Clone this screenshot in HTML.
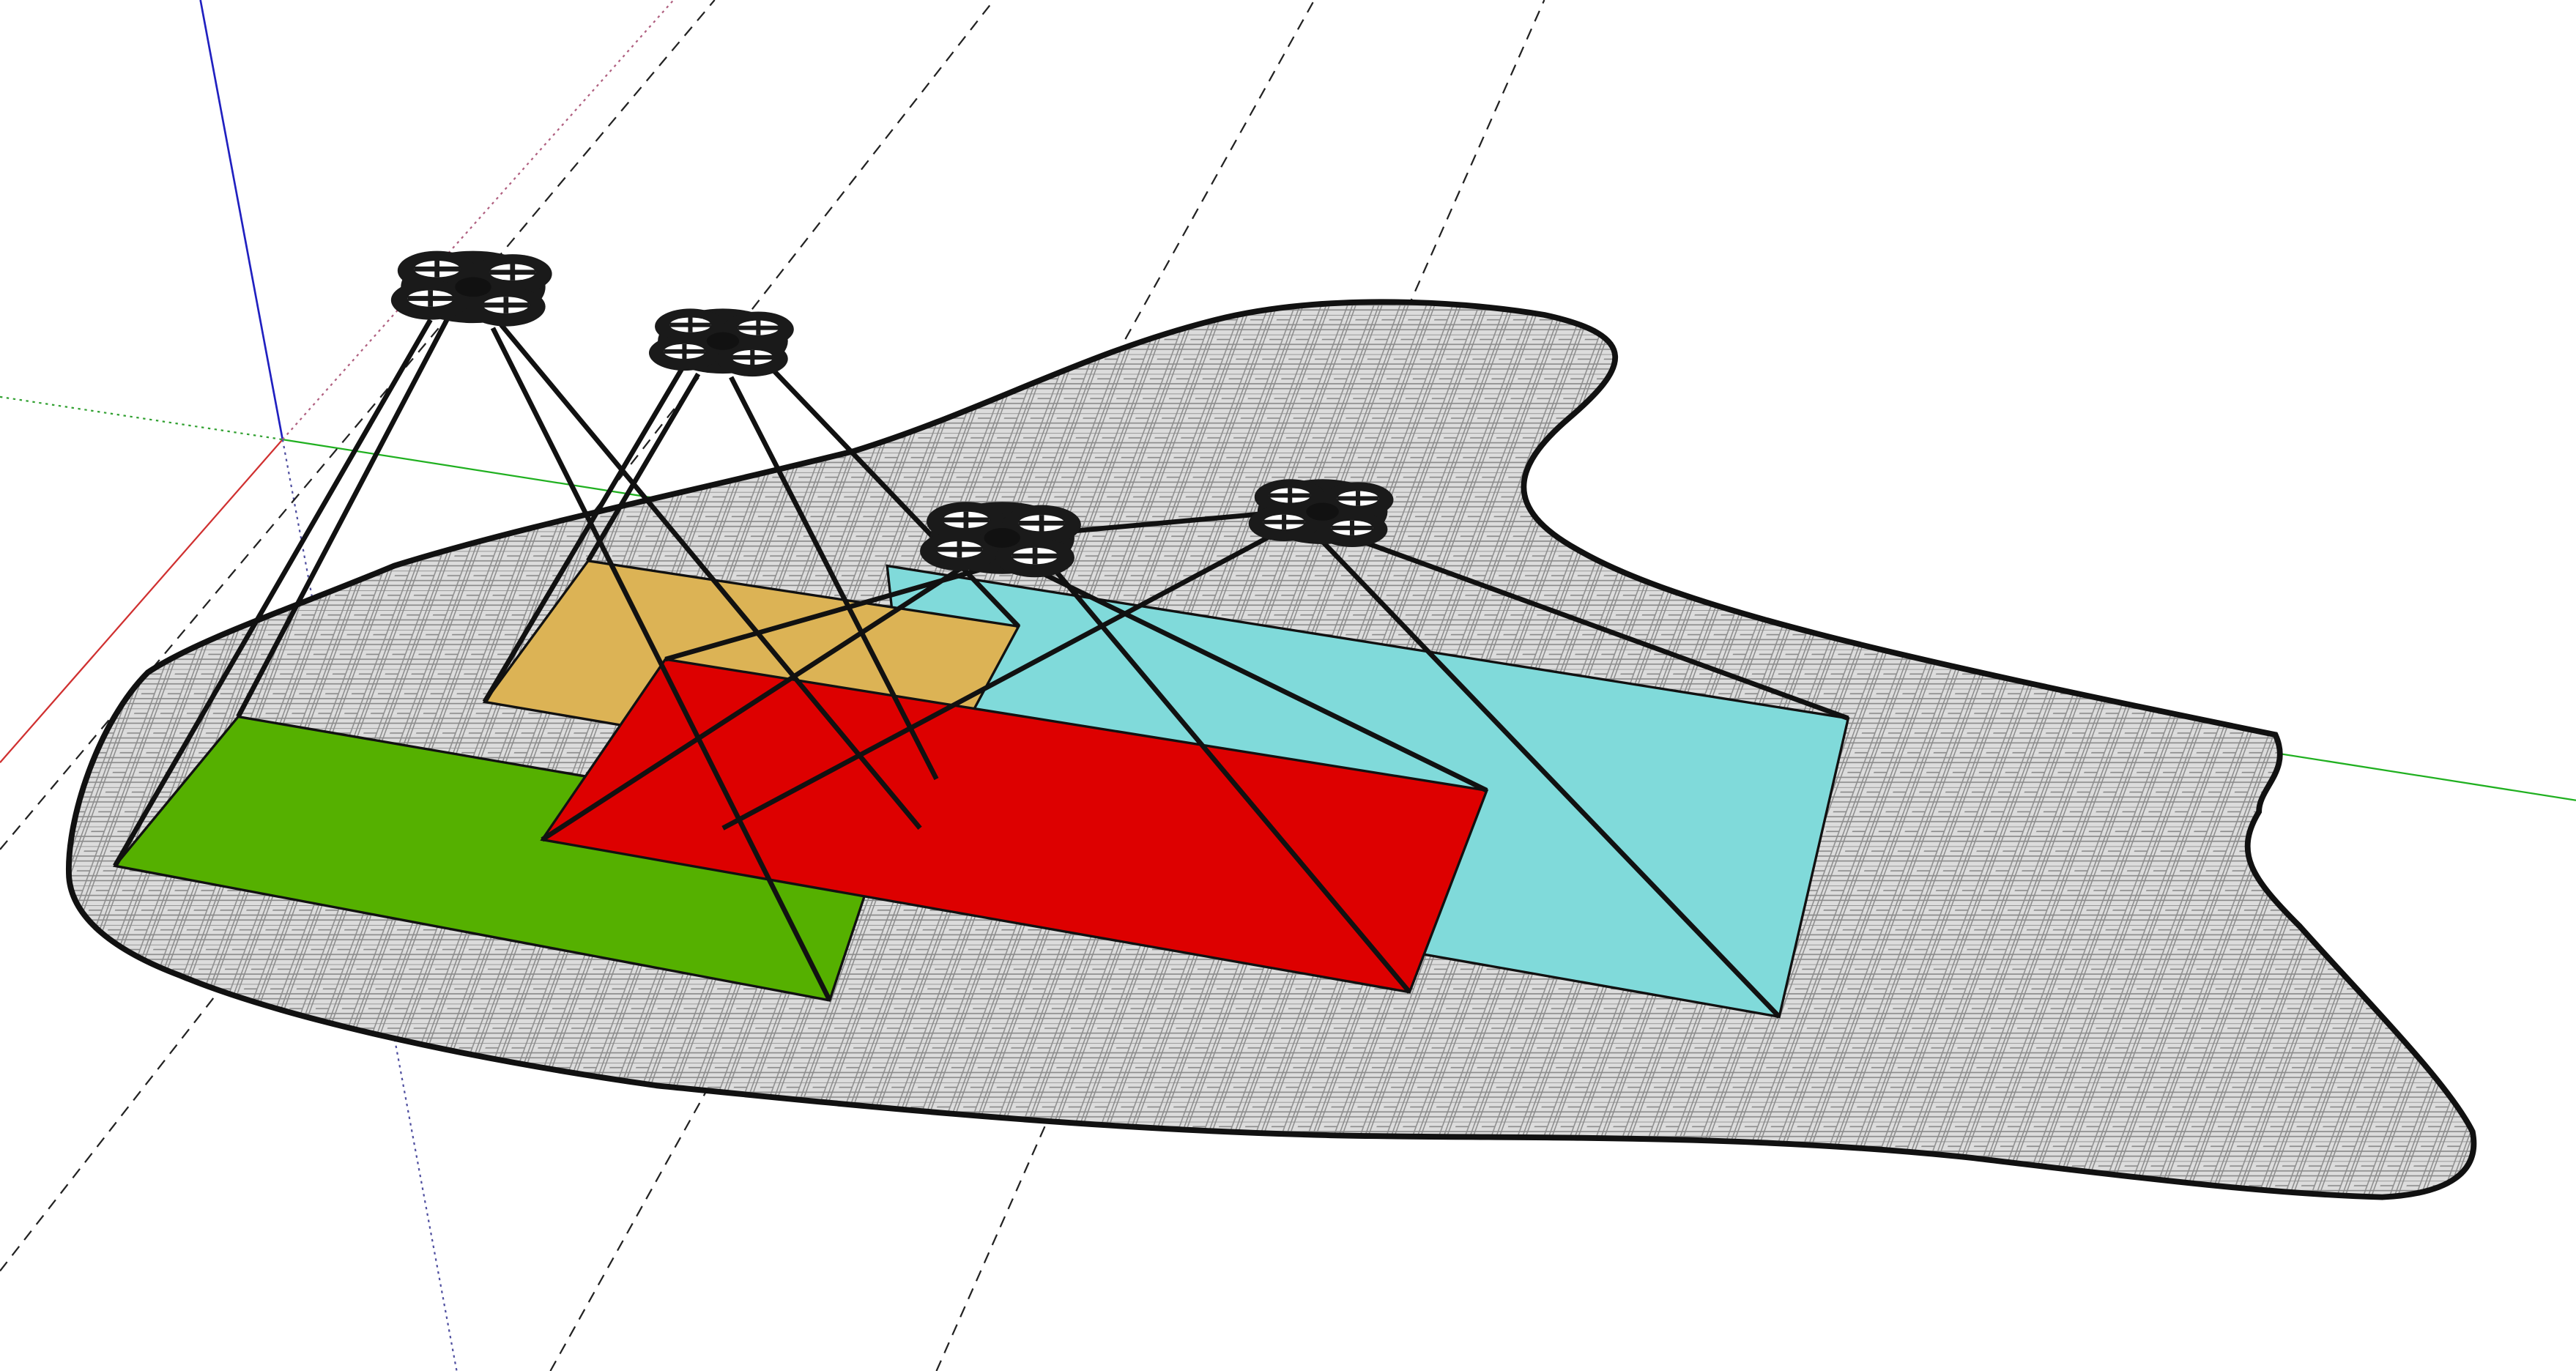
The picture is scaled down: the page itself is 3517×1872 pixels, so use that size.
<!DOCTYPE html>
<html><head><meta charset="utf-8"><style>html,body{margin:0;padding:0;background:#fff;overflow:hidden}svg{display:block}</style></head>
<body>
<svg width="3517" height="1872" viewBox="0 0 1568 836" preserveAspectRatio="none" xmlns="http://www.w3.org/2000/svg">
<defs>
<pattern id="weave" width="16" height="12" patternUnits="userSpaceOnUse" patternTransform="skewX(-20)">
<rect width="16" height="12" fill="#dcdcdc"/>
<path d="M0 3H8M0 6H8M0 9H8M11 0V6M13 0V6M8 9H16M11 6V12M13 6V12M8 0V12M0 0H16M0 6H16" stroke="#8a8a8a" stroke-width="0.7" fill="none"/>
</pattern>
<g id="drone">
<ellipse cx="0" cy="0" rx="44" ry="22" fill="#1a1a1a"/>
<ellipse cx="-22" cy="-10" rx="24" ry="12" fill="#1a1a1a"/>
<ellipse cx="24" cy="-8" rx="24" ry="12" fill="#1a1a1a"/>
<ellipse cx="-26" cy="8" rx="24" ry="12" fill="#1a1a1a"/>
<ellipse cx="20" cy="12" rx="24" ry="12" fill="#1a1a1a"/>
<ellipse cx="-22" cy="-11" rx="14" ry="5" fill="#fff"/>
<ellipse cx="24" cy="-9" rx="14" ry="5" fill="#fff"/>
<ellipse cx="-26" cy="7" rx="14" ry="5" fill="#fff"/>
<ellipse cx="20" cy="11" rx="14" ry="5" fill="#fff"/>
<path d="M-36 -11H-8M10 -9H38M-40 7H-12M6 11H34M-22 -16V-6M24 -14V-4M-26 2V12M20 6V16" stroke="#1a1a1a" stroke-width="3"/>
<ellipse cx="0" cy="0" rx="11" ry="6" fill="#111"/>
</g>
</defs>
<g>
<line x1="122" y1="0" x2="172" y2="268" stroke="#2020c0" stroke-width="1.2"/>
<line x1="172" y1="268" x2="0" y2="465" stroke="#d03030" stroke-width="1"/>
<line x1="0" y1="242" x2="172" y2="268" stroke="#30a030" stroke-width="1" stroke-dasharray="1.5 2.5"/>
<line x1="172" y1="268" x2="1568" y2="488" stroke="#20b020" stroke-width="1"/>
<line x1="172" y1="268" x2="410" y2="0" stroke="#b06080" stroke-width="1" stroke-dasharray="1.5 2.5"/>
<line x1="172" y1="268" x2="278" y2="836" stroke="#5050a0" stroke-width="1" stroke-dasharray="1.5 2.5"/>
</g>
<g stroke="#222" stroke-width="1" stroke-dasharray="7 5">
<line x1="0" y1="518" x2="435" y2="0"/>
<line x1="0" y1="775" x2="605" y2="0"/>
<line x1="335" y1="836" x2="800" y2="0"/>
<line x1="570" y1="836" x2="940" y2="0"/>
</g>
<path fill="url(#weave)" stroke="#111" stroke-width="3.5" d="M42 535 C40 500 60 440 90 410 C120 390 180 370 240 345 C320 320 420 300 520 275 C600 250 660 215 740 195 C800 180 880 182 940 192 C1000 205 990 225 955 255 C920 285 915 310 960 335 C1020 370 1150 400 1385 448 C1395 470 1375 480 1375 495 C1360 520 1370 535 1400 565 C1440 610 1490 660 1505 690 C1510 715 1490 728 1450 730 C1380 728 1300 718 1200 706 C1050 690 900 695 800 692 C650 688 500 672 400 662 C280 645 170 620 110 595 C70 580 44 560 42 535Z"/>
<g stroke="#111" stroke-width="1.5">
<polygon fill="#55b000" points="70,528 145,437 540,505 505,610"/>
<polygon fill="#80dada" points="540,345 1125,438 1083,620 560,528"/>
<polygon fill="#dcb355" points="295,428 358,342 620,382 570,475"/>
<polygon fill="#dd0000" points="330,512 405,402 905,482 858,605"/>
</g>
<g stroke="#111" stroke-width="3" fill="none">
<path d="M262 195L70 528M272 195L145 437M300 200L505 610M305 198L560 505"/>
<path d="M415 225L295 428M425 228L358 342M445 230L570 475M470 225L620 382"/>
<path d="M595 340L330 512M605 345L405 402M625 345L905 482M640 345L858 605"/>
<path d="M790 318L440 505M815 325L1125 438M800 325L1083 620M805 310L640 325"/>
</g>
<use href="#drone" x="288" y="175"/>
<use href="#drone" x="440" y="208" transform="translate(440 208) scale(0.9) translate(-440 -208)"/>
<use href="#drone" x="610" y="328"/>
<use href="#drone" x="805" y="312" transform="translate(805 312) scale(0.9) translate(-805 -312)"/>
</svg>
</body></html>
